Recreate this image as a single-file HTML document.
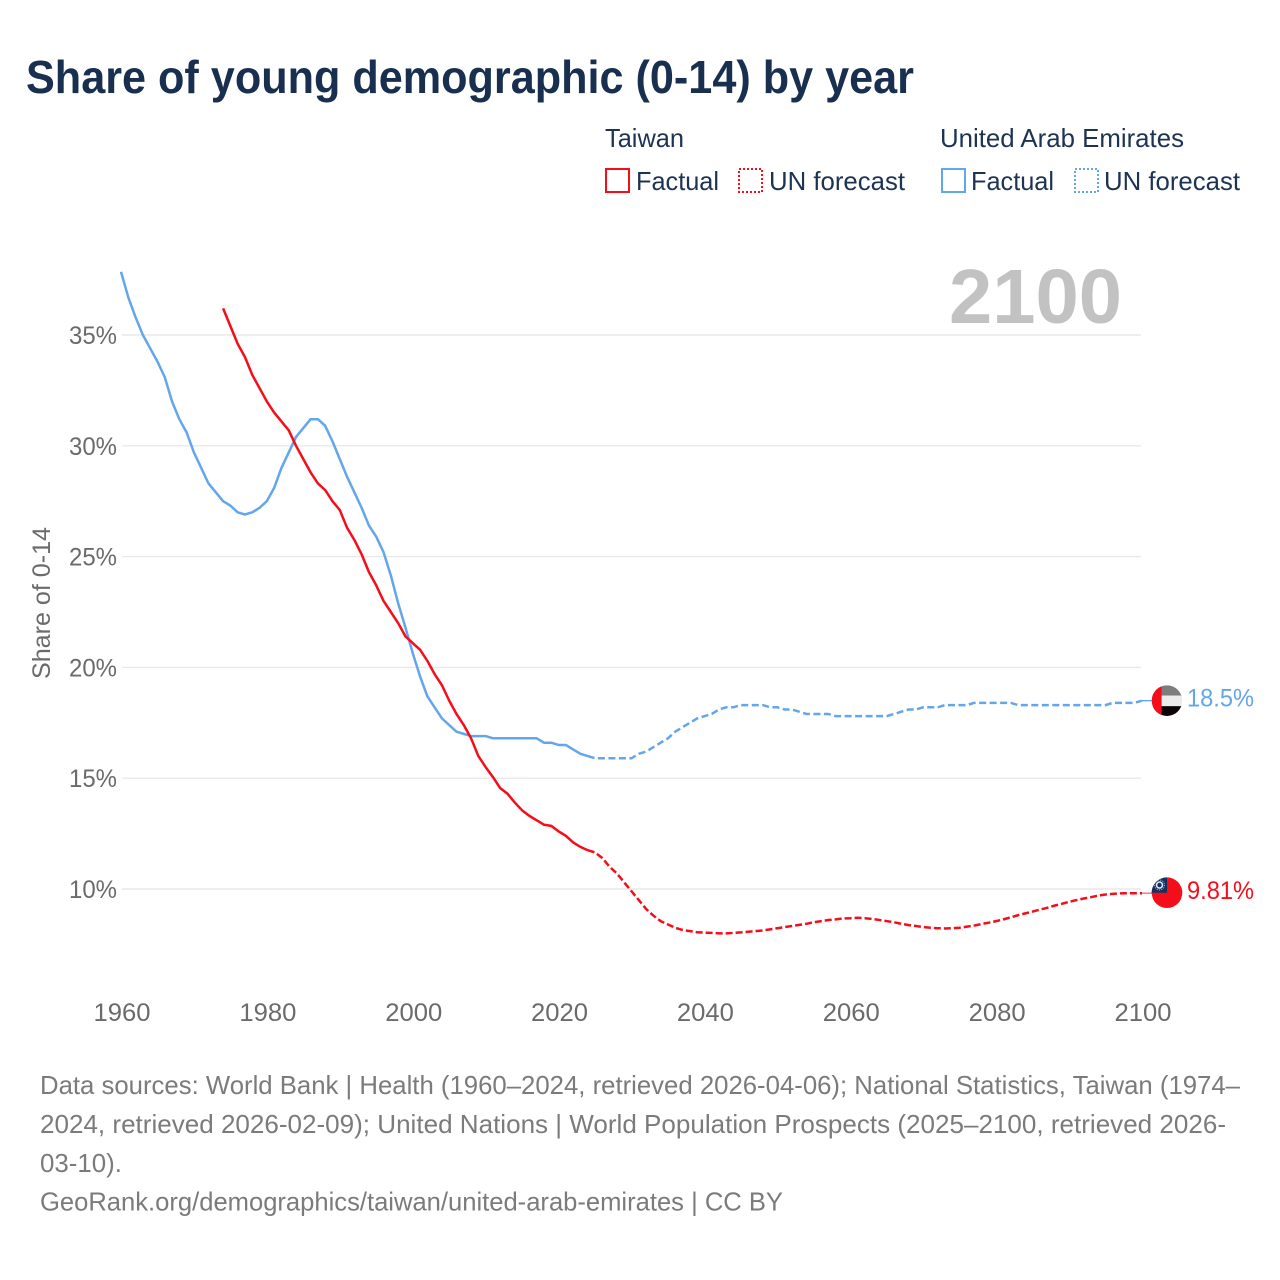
<!DOCTYPE html>
<html lang="en">
<head>
<meta charset="utf-8">
<title>Share of young demographic (0-14) by year</title>
<style>
html,body{margin:0;padding:0;background:#fff}
svg{display:block;font-family:"Liberation Sans",sans-serif}
</style>
</head>
<body>
<svg id="chart" width="1280" height="1280" viewBox="0 0 1280 1280" xmlns="http://www.w3.org/2000/svg">
  <defs>
    <clipPath id="flag-clip"><circle cx="0" cy="0" r="15.3"/></clipPath>
  </defs>
  <rect width="1280" height="1280" fill="#fff"/>
  <text x="26" y="93" font-size="46" font-weight="700" fill="#182f4f" textLength="888" lengthAdjust="spacingAndGlyphs">Share of young demographic (0-14) by year</text>

  <g font-size="26" fill="#1c3354">
    <text x="605" y="147" textLength="79" lengthAdjust="spacingAndGlyphs">Taiwan</text>
    <rect x="606" y="169" width="23" height="23" fill="none" stroke="#f60d1a" stroke-width="2"/>
    <text x="636" y="190" textLength="83" lengthAdjust="spacingAndGlyphs">Factual</text>
    <rect x="739" y="169" width="23" height="23" fill="none" stroke="#f60d1a" stroke-width="2" stroke-dasharray="2 2"/>
    <text x="769" y="190" textLength="136" lengthAdjust="spacingAndGlyphs">UN forecast</text>
    <text x="940" y="147" textLength="244" lengthAdjust="spacingAndGlyphs">United Arab Emirates</text>
    <rect x="942" y="169" width="23" height="23" fill="none" stroke="#63a6ec" stroke-width="2"/>
    <text x="971" y="190" textLength="83" lengthAdjust="spacingAndGlyphs">Factual</text>
    <rect x="1075" y="169" width="23" height="23" fill="none" stroke="#63a6ec" stroke-width="2" stroke-dasharray="2 2"/>
    <text x="1104" y="190" textLength="136" lengthAdjust="spacingAndGlyphs">UN forecast</text>
  </g>

  <text x="949" y="323" font-size="77" font-weight="700" fill="#c2c2c2" textLength="173" lengthAdjust="spacingAndGlyphs">2100</text>
  <text transform="translate(50,679) rotate(-90)" font-size="25" fill="#6b6b6b" textLength="152" lengthAdjust="spacingAndGlyphs">Share of 0-14</text>

  <g id="grid"></g>
  <g id="y-ticks"></g>
  <g id="x-ticks"></g>
  <g id="series"></g>

  <g id="flag-uae" clip-path="url(#flag-clip)">
    <rect x="-16" y="-16" width="32" height="11" fill="#7d7d7d"/>
    <rect x="-16" y="-5" width="32" height="10.5" fill="#ececec"/>
    <rect x="-16" y="5.5" width="32" height="11" fill="#0b0506"/>
    <rect x="-16" y="-16" width="10.6" height="32" fill="#f60d1a"/>
  </g>
  <g id="flag-tw" clip-path="url(#flag-clip)">
    <rect x="-16" y="-16" width="32" height="32" fill="#f60d1a"/>
    <rect x="-16" y="-16" width="16" height="16" fill="#14305f"/>
    <circle cx="-7.5" cy="-7.7" r="3" fill="none" stroke="#dfe6f2" stroke-width="1.6"/>
    <circle cx="-7.5" cy="-7.7" r="5" fill="none" stroke="#9fb2d0" stroke-width="1" stroke-dasharray="1.2 1.2"/>
  </g>
  <text id="label-uae" x="1187" font-size="25" fill="#63a6ec" textLength="67" lengthAdjust="spacingAndGlyphs"></text>
  <text id="label-tw" x="1187" font-size="25" fill="#f60d1a" textLength="67" lengthAdjust="spacingAndGlyphs"></text>

  <g font-size="26" fill="#7b7b7b">
    <text x="40" y="1094" textLength="1200" lengthAdjust="spacingAndGlyphs">Data sources: World Bank | Health (1960–2024, retrieved 2026-04-06); National Statistics, Taiwan (1974–</text>
    <text x="40" y="1133" textLength="1186" lengthAdjust="spacingAndGlyphs">2024, retrieved 2026-02-09); United Nations | World Population Prospects (2025–2100, retrieved 2026-</text>
    <text x="40" y="1172" textLength="82" lengthAdjust="spacingAndGlyphs">03-10).</text>
    <text x="40" y="1210.5" textLength="743" lengthAdjust="spacingAndGlyphs">GeoRank.org/demographics/taiwan/united-arab-emirates | CC BY</text>
  </g>
</svg>

<script>
const xTickYears = [1960, 1980, 2000, 2020, 2040, 2060, 2080, 2100];
const yTickValues = [10, 15, 20, 25, 30, 35];

const uaeFactualStart = 1960;
const uaeFactual = [
  37.85, 36.7, 35.8, 35.0, 34.4, 33.8, 33.1, 32.0, 31.2, 30.6,
  29.7, 29.0, 28.3, 27.9, 27.5, 27.3, 27.0, 26.9, 27.0, 27.2,
  27.5, 28.1, 29.0, 29.7, 30.4, 30.8, 31.2, 31.2, 30.9, 30.2,
  29.4, 28.6, 27.9, 27.2, 26.4, 25.9, 25.2, 24.15, 22.9, 21.8,
  20.65, 19.6, 18.7, 18.2, 17.7, 17.4, 17.1, 17.0, 16.9, 16.9,
  16.9, 16.8, 16.8, 16.8, 16.8, 16.8, 16.8, 16.8, 16.6, 16.6,
  16.5, 16.5, 16.3, 16.1, 16.0
];
const uaeForecastStart = 2025;
const uaeForecast = [
  15.9, 15.9, 15.9, 15.9, 15.9, 15.9, 16.1, 16.2, 16.4, 16.6,
  16.8, 17.1, 17.3, 17.5, 17.7, 17.8, 17.9, 18.1, 18.2, 18.2,
  18.3, 18.3, 18.3, 18.3, 18.2, 18.2, 18.1, 18.1, 18.0, 17.9,
  17.9, 17.9, 17.9, 17.8, 17.8, 17.8, 17.8, 17.8, 17.8, 17.8,
  17.8, 17.9, 18.0, 18.1, 18.1, 18.2, 18.2, 18.2, 18.3, 18.3,
  18.3, 18.3, 18.4, 18.4, 18.4, 18.4, 18.4, 18.4, 18.3, 18.3,
  18.3, 18.3, 18.3, 18.3, 18.3, 18.3, 18.3, 18.3, 18.3, 18.3,
  18.3, 18.4, 18.4, 18.4, 18.4, 18.5
];

const taiwanFactualStart = 1974;
const taiwanFactual = [
  36.2, 35.4, 34.6, 34.0, 33.2, 32.6,
  32.0, 31.5, 31.1, 30.7, 30.0, 29.4, 28.8, 28.3, 28.0, 27.5,
  27.1, 26.3, 25.75, 25.1, 24.3, 23.7, 23.0, 22.5, 22.0, 21.4,
  21.1, 20.8, 20.3, 19.7, 19.2, 18.5, 17.9, 17.4, 16.8, 16.0,
  15.5, 15.05, 14.55, 14.3, 13.9, 13.55, 13.3, 13.1, 12.9, 12.85,
  12.6, 12.4, 12.1, 11.9, 11.75
];
const taiwanForecastStart = 2025;
const taiwanForecast = [
  11.65, 11.4, 11.0, 10.7, 10.3, 9.9, 9.5, 9.1, 8.8, 8.55,
  8.4, 8.25, 8.15, 8.1, 8.05, 8.03, 8.02, 8.0, 8.0, 8.02,
  8.04, 8.07, 8.1, 8.13, 8.18, 8.23, 8.28, 8.33, 8.38, 8.43,
  8.5, 8.55, 8.6, 8.63, 8.67, 8.68, 8.7, 8.68, 8.65, 8.6,
  8.55, 8.5, 8.43, 8.37, 8.33, 8.28, 8.25, 8.23, 8.22, 8.23,
  8.25, 8.3, 8.35, 8.42, 8.48, 8.55, 8.63, 8.72, 8.82, 8.9,
  8.98, 9.07, 9.15, 9.25, 9.33, 9.42, 9.5, 9.57, 9.63, 9.7,
  9.75, 9.78, 9.8, 9.81, 9.81, 9.81
];

const NS = 'http://www.w3.org/2000/svg';
const RED = '#f60d1a';
const BLUE = '#63a6ec';
const LINE_WIDTH = '2.5';

function xScale(year) { return 121 + (year - 1960) * (1021 / 140); }
function yScale(pct) { return 889 - (pct - 10) * 22.16; }

function pathFrom(startYear, values, lead) {
  let d = '';
  if (lead) {
    d = 'M' + xScale(lead.year).toFixed(2) + ' ' + yScale(lead.value).toFixed(2);
  }
  values.forEach(function (v, i) {
    const cmd = (d === '') ? 'M' : 'L';
    d += cmd + xScale(startYear + i).toFixed(2) + ' ' + yScale(v).toFixed(2);
  });
  return d;
}

const grid = document.getElementById('grid');
const yTicksGroup = document.getElementById('y-ticks');
yTickValues.forEach(function (v) {
  const line = document.createElementNS(NS, 'line');
  
  
  line.setAttribute('x1', 122);
  line.setAttribute('x2', 1141);
  line.setAttribute('y1', yScale(v));
  line.setAttribute('y2', yScale(v));
  line.setAttribute('stroke', '#e9e9e9');
  line.setAttribute('stroke-width', '1.4');
  grid.appendChild(line);

  const t = document.createElementNS(NS, 'text');
  
  
  t.setAttribute('x', 69);
  t.setAttribute('y', yScale(v) + 9);
  t.setAttribute('font-size', '25');
  t.setAttribute('fill', '#6b6b6b');
  t.setAttribute('textLength', '48');
  t.setAttribute('lengthAdjust', 'spacingAndGlyphs');
  t.textContent = v + '%';
  yTicksGroup.appendChild(t);
});

const xTicksGroup = document.getElementById('x-ticks');
xTickYears.forEach(function (yr) {
  const t = document.createElementNS(NS, 'text');
  
  
  t.setAttribute('x', xScale(yr) - 27.5);
  t.setAttribute('y', 1021);
  t.setAttribute('font-size', '25');
  t.setAttribute('fill', '#6b6b6b');
  t.setAttribute('textLength', '57');
  t.setAttribute('lengthAdjust', 'spacingAndGlyphs');
  t.textContent = String(yr);
  xTicksGroup.appendChild(t);
});

const seriesGroup = document.getElementById('series');

const uaeFactualLine = document.createElementNS(NS, 'path');


uaeFactualLine.setAttribute('d', pathFrom(uaeFactualStart, uaeFactual));
uaeFactualLine.setAttribute('fill', 'none');
uaeFactualLine.setAttribute('stroke', BLUE);
uaeFactualLine.setAttribute('stroke-width', LINE_WIDTH);
uaeFactualLine.setAttribute('stroke-linejoin', 'round');
seriesGroup.appendChild(uaeFactualLine);

const uaeForecastLine = document.createElementNS(NS, 'path');


uaeForecastLine.setAttribute('d', pathFrom(uaeForecastStart, uaeForecast, {
  year: uaeFactualStart + uaeFactual.length - 1,
  value: uaeFactual[uaeFactual.length - 1]
}));
uaeForecastLine.setAttribute('fill', 'none');
uaeForecastLine.setAttribute('stroke', BLUE);
uaeForecastLine.setAttribute('stroke-width', LINE_WIDTH);
uaeForecastLine.setAttribute('stroke-dasharray', '7 3.5');
seriesGroup.appendChild(uaeForecastLine);

const twFactualLine = document.createElementNS(NS, 'path');


twFactualLine.setAttribute('d', pathFrom(taiwanFactualStart, taiwanFactual));
twFactualLine.setAttribute('fill', 'none');
twFactualLine.setAttribute('stroke', RED);
twFactualLine.setAttribute('stroke-width', LINE_WIDTH);
twFactualLine.setAttribute('stroke-linejoin', 'round');
seriesGroup.appendChild(twFactualLine);

const twForecastLine = document.createElementNS(NS, 'path');


twForecastLine.setAttribute('d', pathFrom(taiwanForecastStart, taiwanForecast, {
  year: taiwanFactualStart + taiwanFactual.length - 1,
  value: taiwanFactual[taiwanFactual.length - 1]
}));
twForecastLine.setAttribute('fill', 'none');
twForecastLine.setAttribute('stroke', RED);
twForecastLine.setAttribute('stroke-width', LINE_WIDTH);
twForecastLine.setAttribute('stroke-dasharray', '7 3');
seriesGroup.appendChild(twForecastLine);

const uaeLast = uaeForecast[uaeForecast.length - 1];
const twLast = taiwanForecast[taiwanForecast.length - 1];

const uaeLeader = document.createElementNS(NS, 'line');


uaeLeader.setAttribute('x1', xScale(2100));
uaeLeader.setAttribute('x2', 1152);
uaeLeader.setAttribute('y1', yScale(uaeLast));
uaeLeader.setAttribute('y2', yScale(uaeLast));
uaeLeader.setAttribute('stroke', BLUE);
uaeLeader.setAttribute('stroke-width', '1.4');
seriesGroup.appendChild(uaeLeader);

const twLeader = document.createElementNS(NS, 'line');


twLeader.setAttribute('x1', xScale(2100));
twLeader.setAttribute('x2', 1152);
twLeader.setAttribute('y1', yScale(twLast));
twLeader.setAttribute('y2', yScale(twLast));
twLeader.setAttribute('stroke', '#f9707a');
twLeader.setAttribute('stroke-width', '1.4');
seriesGroup.appendChild(twLeader);

document.getElementById('flag-uae').setAttribute('transform', 'translate(1167,' + yScale(uaeLast) + ')');
document.getElementById('flag-tw').setAttribute('transform', 'translate(1167,' + (yScale(twLast) - 0.5) + ')');

const uaeLabel = document.getElementById('label-uae');
uaeLabel.setAttribute('y', yScale(uaeLast) + 6);
uaeLabel.textContent = uaeLast + '%';

const twLabel = document.getElementById('label-tw');
twLabel.setAttribute('y', yScale(twLast) + 6);
twLabel.textContent = twLast + '%';
</script>
</body>
</html>
